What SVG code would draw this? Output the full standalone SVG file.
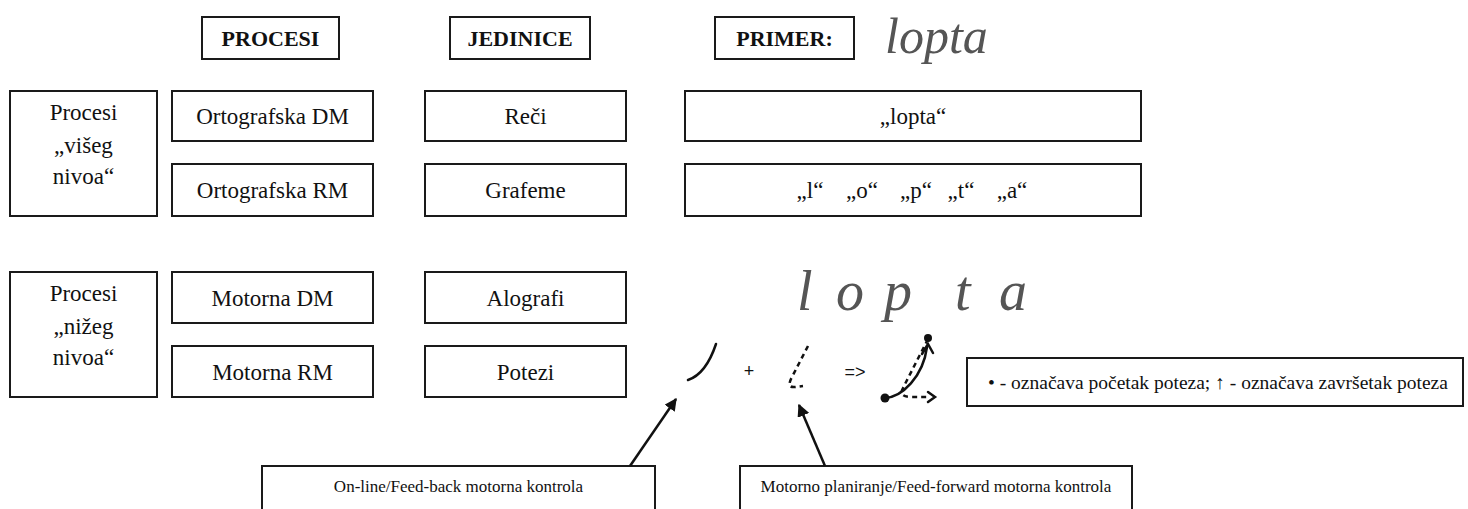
<svg xmlns="http://www.w3.org/2000/svg" width="1468" height="509" viewBox="0 0 1468 509">
<defs>
<style>
.box{fill:#fff;stroke:#1a1a1a;stroke-width:2}
.t{font-family:"Liberation Serif","Times New Roman",serif;font-size:23px;fill:#111;text-anchor:middle}
.h{font-weight:bold;font-size:22px}
.s{font-family:"Liberation Serif","Times New Roman",serif;font-size:17px;fill:#111;text-anchor:middle}
.cur{font-family:"Liberation Serif","Times New Roman",serif;font-style:italic;fill:#555}
.conn{stroke:#111;stroke-width:2.5;fill:none}
.pen{stroke:#111;stroke-width:2.5;fill:none;stroke-linecap:round}
.dash{stroke-dasharray:5 4;stroke-linecap:butt}
</style>
<marker id="ah" viewBox="0 0 10 10" refX="9" refY="5" markerWidth="5" markerHeight="5" orient="auto" markerUnits="strokeWidth">
<path d="M0,0 L10,5 L0,10 z" fill="#111"/>
</marker>
</defs>
<rect width="1468" height="509" fill="#fff"/>

<g id="hdr-procesi"><rect class="box" x="202" y="17" width="137" height="42"/><text class="t h" x="270.5" y="45.5">PROCESI</text></g>
<g id="hdr-jedinice"><rect class="box" x="450" y="17" width="140" height="42"/><text class="t h" x="520" y="45.5">JEDINICE</text></g>
<g id="hdr-primer"><rect class="box" x="715" y="17" width="139" height="42"/><text class="t h" x="784.5" y="45.5">PRIMER:</text>
<text class="cur" x="885" y="53" font-size="50">lopta</text></g>

<g id="procesi-visi"><rect class="box" x="10" y="91" width="147" height="125"/>
<text class="t" x="83.5" y="120">Procesi</text><text class="t" x="83.5" y="153">„višeg</text><text class="t" x="83.5" y="184">nivoa“</text></g>
<g id="orto-dm"><rect class="box" x="172" y="91" width="201" height="50"/><text class="t" x="272.5" y="124">Ortografska DM</text></g>
<g id="orto-rm"><rect class="box" x="172" y="164" width="201" height="52"/><text class="t" x="272.5" y="198">Ortografska RM</text></g>
<g id="reci"><rect class="box" x="425" y="91" width="201" height="50"/><text class="t" x="525.5" y="124">Reči</text></g>
<g id="grafeme"><rect class="box" x="425" y="164" width="201" height="52"/><text class="t" x="525.5" y="198">Grafeme</text></g>
<g id="primer-rec"><rect class="box" x="685" y="91" width="456" height="50"/><text class="t" x="913" y="124">„lopta“</text></g>
<g id="primer-grafeme"><rect class="box" x="685" y="164" width="456" height="52"/>
<text class="t" y="198"><tspan x="810">„l“</tspan><tspan x="862">„o“</tspan><tspan x="916">„p“</tspan><tspan x="961">„t“</tspan><tspan x="1012">„a“</tspan></text></g>

<g id="procesi-nizi"><rect class="box" x="10" y="272" width="147" height="125"/>
<text class="t" x="83.5" y="301">Procesi</text><text class="t" x="83.5" y="334">„nižeg</text><text class="t" x="83.5" y="365">nivoa“</text></g>
<g id="motorna-dm"><rect class="box" x="172" y="272" width="201" height="51"/><text class="t" x="272.5" y="305.5">Motorna DM</text></g>
<g id="motorna-rm"><rect class="box" x="172" y="346" width="201" height="51"/><text class="t" x="272.5" y="379.5">Motorna RM</text></g>
<g id="alografi"><rect class="box" x="425" y="272" width="201" height="51"/><text class="t" x="525.5" y="305.5">Alografi</text></g>
<g id="potezi"><rect class="box" x="425" y="346" width="201" height="51"/><text class="t" x="525.5" y="379.5">Potezi</text></g>

<g id="alografi-primer"><text class="cur" y="310" font-size="56"><tspan x="797">l</tspan><tspan x="836">o</tspan><tspan x="884">p</tspan><tspan x="955">t</tspan><tspan x="999">a</tspan></text></g>

<g id="potezi-primer">
<path class="pen" d="M716,344 Q706,374 688,380"/>
<text x="749" y="377" font-family="Liberation Sans, Arial, sans-serif" font-size="18" fill="#111" text-anchor="middle">+</text>
<path class="pen dash" d="M808,346 L792,377 Q786,388 795,387 L803,386"/>
<text x="855" y="378" font-family="Liberation Sans, Arial, sans-serif" font-size="18" fill="#111" text-anchor="middle">=&gt;</text>
<circle cx="928" cy="338" r="4" fill="#111"/>
<circle cx="885" cy="398" r="4.5" fill="#111"/>
<path class="pen" d="M885,398 C902,397 923,377 927,347"/>
<path class="pen" d="M922,354 L928,344 L933,353"/>
<path class="pen dash" d="M928,339 L903,388 Q898,397 912,397 L930,397"/>
<path class="pen" d="M928,392 L935,397 L928,402"/>
</g>

<g id="legenda"><rect class="box" x="967" y="358" width="496" height="48"/>
<text x="988" y="389" font-family="Liberation Serif, Times New Roman, serif" font-size="19.5" fill="#111">• - označava početak poteza; ↑ - označava završetak poteza</text></g>

<g id="feedback"><rect class="box" x="262" y="466" width="393" height="60"/><text class="s" x="458.5" y="492">On-line/Feed-back motorna kontrola</text></g>
<g id="feedforward"><rect class="box" x="740" y="466" width="392" height="60"/><text class="s" x="936" y="492">Motorno planiranje/Feed-forward motorna kontrola</text></g>

<g id="connectors">
<line class="conn" x1="630" y1="466" x2="676" y2="399" marker-end="url(#ah)"/>
<line class="conn" x1="825" y1="466" x2="799" y2="405" marker-end="url(#ah)"/>
</g>
</svg>
